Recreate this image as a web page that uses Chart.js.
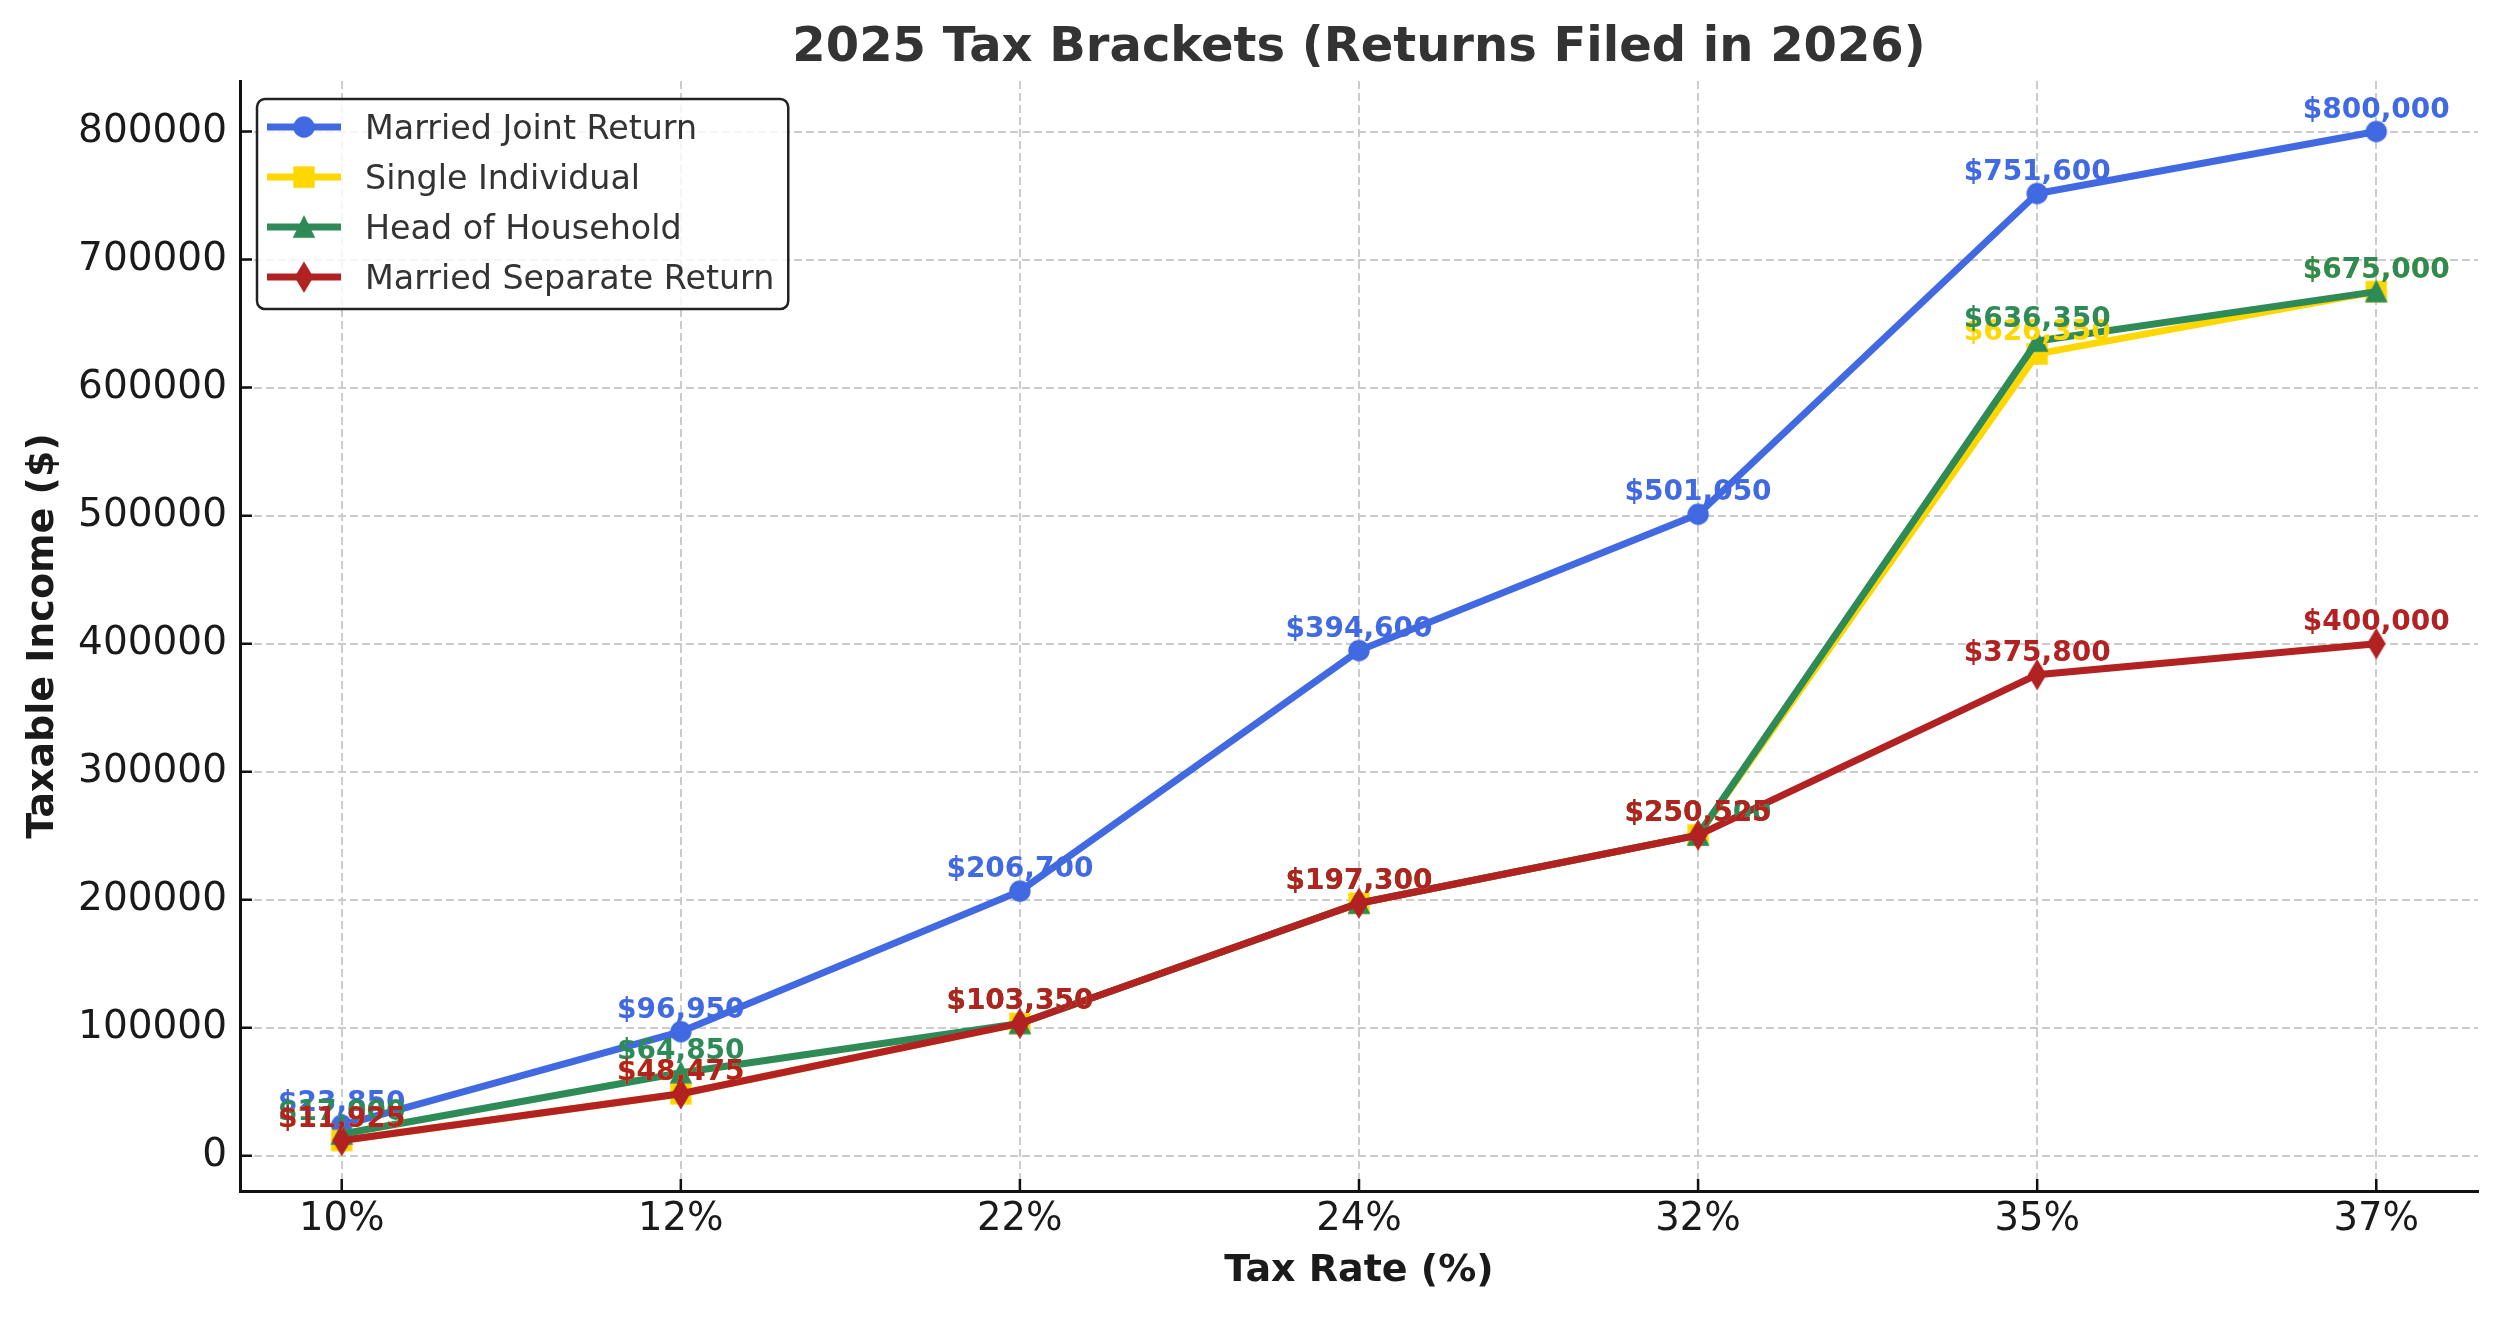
<!DOCTYPE html>
<html>
<head>
<meta charset="utf-8">
<script src="https://cdn.jsdelivr.net/npm/chart.js@4.4.1/dist/chart.umd.min.js"></script>
<style>
  html, body { margin: 0; padding: 0; background: #fff; }
  #wrap { width: 2500px; height: 1317px; }
</style>
</head>
<body>
<div id="wrap"><canvas id="taxChart"></canvas></div>
<script>
var rates = ["10%", "12%", "22%", "24%", "32%", "35%", "37%"];
var marriedJoint = [23850, 96950, 206700, 394600, 501050, 751600, 800000];
var single = [11925, 48475, 103350, 197300, 250525, 626350, 675000];
var headOfHousehold = [17000, 64850, 103350, 197300, 250500, 636350, 675000];
var marriedSeparate = [11925, 48475, 103350, 197300, 250525, 375800, 400000];
var yTickValues = [0, 100000, 200000, 300000, 400000, 500000, 600000, 700000, 800000];

var seriesNames = ["Married Joint Return", "Single Individual", "Head of Household", "Married Separate Return"];
var seriesColors = ["#4169E1", "#FFD700", "#2E8B57", "#B22222"];
var seriesShapes = ["circle", "square", "triangle", "diamond"];
var seriesValues = [marriedJoint, single, headOfHousehold, marriedSeparate];

var FONT = "'DejaVu Sans', sans-serif";

// matplotlib-like markers drawn once on small canvases
function makeMarker(shape, color) {
  var s = 19.4, pad = 3;
  var w = Math.ceil(shape === "diamond" ? s * 1.42 : s) + pad * 2;
  var c = document.createElement("canvas");
  c.width = w; c.height = w;
  var g = c.getContext("2d");
  var m = w / 2, h = s / 2;
  g.fillStyle = color; g.strokeStyle = color; g.lineWidth = 2;
  g.beginPath();
  if (shape === "circle") {
    g.arc(m, m, h, 0, Math.PI * 2);
  } else if (shape === "square") {
    g.rect(m - h, m - h, s, s);
  } else if (shape === "triangle") {
    g.moveTo(m, m - h); g.lineTo(m + h, m + h); g.lineTo(m - h, m + h); g.closePath();
  } else {
    var dy = s * 0.707, dx = s * 0.707 * 0.6;
    g.moveTo(m, m - dy); g.lineTo(m + dx, m); g.lineTo(m, m + dy); g.lineTo(m - dx, m); g.closePath();
  }
  g.fill(); g.stroke();
  return c;
}

var allValues = [].concat(marriedJoint, single, headOfHousehold, marriedSeparate);
var dMin = Math.min.apply(null, allValues), dMax = Math.max.apply(null, allValues);
var yMargin = (dMax - dMin) * 0.05;

var datasets = seriesNames.map(function (name, k) {
  return {
    label: name,
    data: seriesValues[k].map(function (v, i) { return { x: i, y: v }; }),
    borderColor: seriesColors[k],
    backgroundColor: seriesColors[k],
    borderWidth: 7,
    pointStyle: makeMarker(seriesShapes[k], seriesColors[k]),
    pointRadius: 10,
    tension: 0,
    fill: false,
    order: seriesNames.length - k   // later series drawn on top, like matplotlib
  };
});

var tickMarks = {
  id: "tickMarks",
  beforeDatasetsDraw: function (chart) {
    var ctx = chart.ctx, a = chart.chartArea;
    var xs = chart.scales.x, ys = chart.scales.y;
    ctx.save();
    ctx.strokeStyle = "#111";
    ctx.lineWidth = 2.5;
    ctx.beginPath();
    ys.ticks.forEach(function (t) {
      var y = ys.getPixelForValue(t.value);
      ctx.moveTo(a.left, y); ctx.lineTo(a.left + 12, y);
    });
    xs.ticks.forEach(function (t) {
      var x = xs.getPixelForValue(t.value);
      ctx.moveTo(x, a.bottom); ctx.lineTo(x, a.bottom - 12);
    });
    ctx.stroke();
    ctx.restore();
  }
};

var pointLabels = {
  id: "pointLabels",
  afterDatasetsDraw: function (chart) {
    var ctx = chart.ctx;
    ctx.save();
    ctx.font = "bold 28px " + FONT;
    ctx.textAlign = "center";
    ctx.textBaseline = "alphabetic";
    chart.data.datasets.forEach(function (ds, di) {
      ctx.fillStyle = ds.borderColor;
      chart.getDatasetMeta(di).data.forEach(function (pt, i) {
        ctx.fillText("$" + ds.data[i].y.toLocaleString("en-US"), pt.x, pt.y - 14);
      });
    });
    ctx.restore();
  }
};

var boxLegend = {
  id: "boxLegend",
  afterDraw: function (chart) {
    var ctx = chart.ctx, a = chart.chartArea;
    var left = a.left + 17, top = a.top + 18;
    var rowH = 50, textX = left + 108;
    ctx.save();
    ctx.font = "33.3px " + FONT;
    var maxW = 0;
    chart.data.datasets.forEach(function (ds) { maxW = Math.max(maxW, ctx.measureText(ds.label).width); });
    var w = textX - left + maxW + 14, h = 28 + rowH * 3 + 32, r = 8;
    ctx.beginPath();
    ctx.moveTo(left + r, top);
    ctx.arcTo(left + w, top, left + w, top + h, r);
    ctx.arcTo(left + w, top + h, left, top + h, r);
    ctx.arcTo(left, top + h, left, top, r);
    ctx.arcTo(left, top, left + w, top, r);
    ctx.closePath();
    ctx.fillStyle = "rgba(255,255,255,0.8)";
    ctx.fill();
    ctx.lineWidth = 2.5;
    ctx.strokeStyle = "#222";
    ctx.stroke();
    chart.data.datasets.forEach(function (ds, i) {
      var y = top + 28 + i * rowH;
      ctx.strokeStyle = ds.borderColor;
      ctx.lineWidth = 7;
      ctx.beginPath();
      ctx.moveTo(left + 10, y); ctx.lineTo(left + 84, y);
      ctx.stroke();
      var img = ds.pointStyle;
      ctx.drawImage(img, left + 47 - img.width / 2, y - img.height / 2);
      ctx.fillStyle = "#333";
      ctx.textAlign = "left";
      ctx.textBaseline = "alphabetic";
      ctx.fillText(ds.label, textX, y + 12);
    });
    ctx.restore();
  }
};

new Chart("taxChart", {
  type: "line",
  data: { datasets: datasets },
  plugins: [tickMarks, pointLabels, boxLegend],
  options: {
    responsive: true,
    maintainAspectRatio: false,
    devicePixelRatio: 1,
    animation: false,
    layout: { padding: { left: 0, right: 22, top: 0, bottom: 0 } },
    plugins: {
      legend: { display: false },
      tooltip: { enabled: false },
      title: {
        display: true,
        text: "2025 Tax Brackets (Returns Filed in 2026)",
        fullSize: false,
        color: "#333",
        font: { family: FONT, size: 48, weight: "bold" },
        padding: { top: 19.5, bottom: 4 }
      }
    },
    scales: {
      x: {
        type: "linear",
        min: -0.3,
        max: 6.3,
        afterFit: function (s) { s.height = 126; },
        afterBuildTicks: function (s) {
          s.ticks = rates.map(function (r, i) { return { value: i }; });
        },
        ticks: {
          autoSkip: false,
          maxRotation: 0,
          padding: 6,
          color: "#1a1a1a",
          font: { family: FONT, size: 38.5 },
          callback: function (v) { return rates[v]; }
        },
        grid: { color: "#cccccc", lineWidth: 2, drawTicks: false },
        border: { display: true, color: "#111", width: 3, dash: [8, 4] },
        title: {
          display: true,
          text: "Tax Rate (%)",
          color: "#1a1a1a",
          font: { family: FONT, size: 38, weight: "bold" },
          padding: { top: 23, bottom: 23 }
        }
      },
      y: {
        type: "linear",
        min: dMin - yMargin,
        max: dMax + yMargin,
        afterFit: function (s) { s.width = 240; },
        afterBuildTicks: function (s) {
          s.ticks = yTickValues.map(function (v) { return { value: v }; });
        },
        ticks: {
          autoSkip: false,
          padding: 13,
          color: "#1a1a1a",
          font: { family: FONT, size: 39 },
          callback: function (v) { return String(v); }
        },
        grid: { color: "#cccccc", lineWidth: 2, drawTicks: false },
        border: { display: true, color: "#111", width: 3, dash: [8, 4] },
        title: {
          display: true,
          text: "Taxable Income ($)",
          color: "#1a1a1a",
          font: { family: FONT, size: 38, weight: "bold" },
          padding: { top: 20, bottom: 20 }
        }
      }
    }
  }
});
</script>
</body>
</html>
